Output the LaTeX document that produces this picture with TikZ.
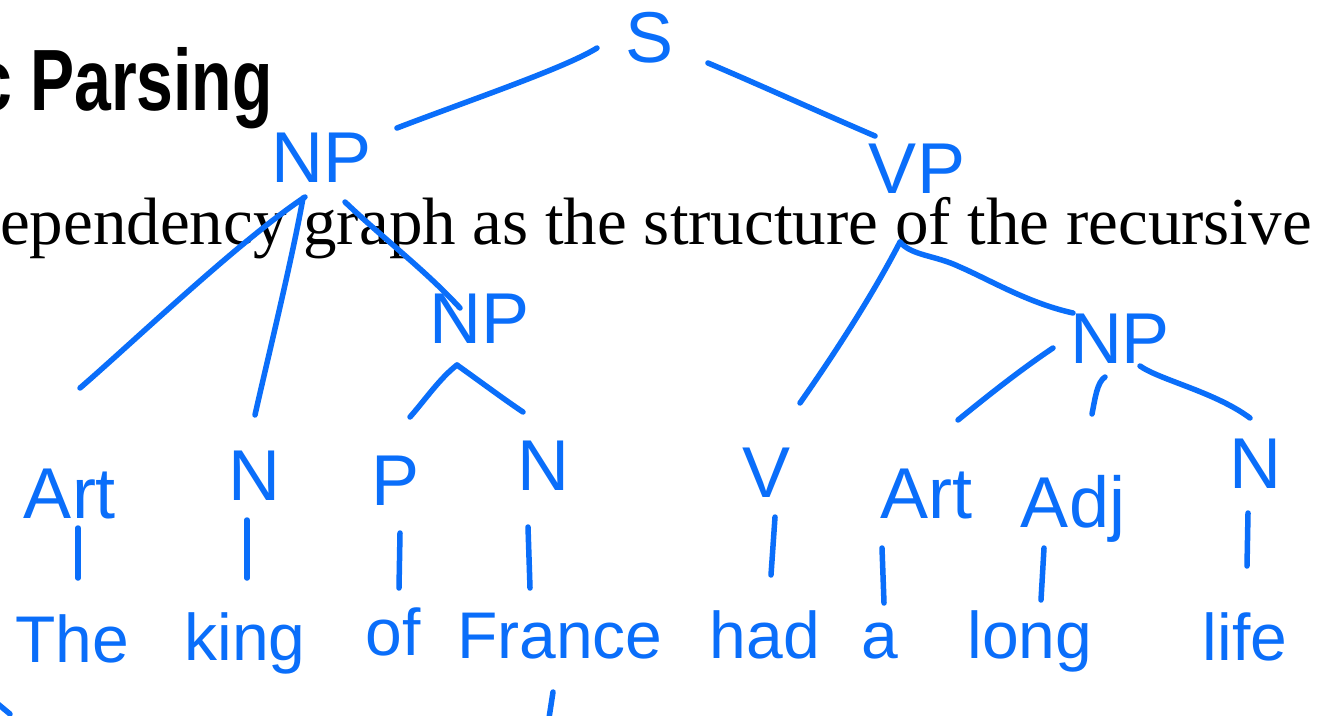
\documentclass[tikz,border=0pt]{standalone}
\usepackage{fontspec}
\newfontfamily\handfont{Liberation Sans}
\newfontfamily\serifface{Liberation Serif}
\newfontfamily\headface{Liberation Sans}
\usetikzlibrary{calc}
\definecolor{ink}{RGB}{10,110,250}
\begin{document}
\begin{tikzpicture}[x=1pt,y=-1pt,
  pen/.style={draw=ink,line width=5.5pt,line cap=round,line join=round},
  lbl/.style={text=ink,inner sep=0pt,anchor=base,font=\handfont\fontsize{72}{72}\selectfont},
  word/.style={text=ink,inner sep=0pt,anchor=base,font=\handfont\fontsize{66}{66}\selectfont}]
\useasboundingbox (0,0) rectangle (1343,715);
\fill[white] (0,0) rectangle (1343,715);
\clip (0,0) rectangle (1343,715);

% slide text underneath the annotation
\node[anchor=base east,inner sep=0pt,font=\headface\bfseries\fontsize{87}{87}\selectfont] (title) at (273,110) {\scalebox{0.76}[1]{c Parsing}};
\node[anchor=base west,inner sep=0pt,font=\serifface\fontsize{67}{67}\selectfont] (body) at (0,244) {ependency graph as the structure of the recursive};

% phrase labels
\node[lbl] (S)   at (650,62)  {S};
\node[lbl] (NPa) at (322,182) {NP};
\node[lbl] (VP)  at (917,193) {VP};
\node[lbl] (NPb) at (480,343) {NP};
\node[lbl] (NPc) at (1120,363) {NP};

% part-of-speech labels
\node[lbl] (Arta) at (70,518)   {Art};
\node[lbl] (Na)   at (254,500)  {N};
\node[lbl] (P)    at (396,505)  {P};
\node[lbl] (Nb)   at (543,490)  {N};
\node[lbl] (V)    at (767,497)  {V};
\node[lbl] (Artb) at (926,518)  {Art};
\node[lbl] (Adj)  at (1073,527) {Adj};
\node[lbl] (Nc)   at (1255,488) {N};

% the sentence
\node[word] (w1) at (72,662)   {The};
\node[word] (w2) at (245,660)  {king};
\node[word] (w3) at (393,655)  {of};
\node[word] (w4) at (560,658)  {France};
\node[word] (w5) at (765,658)  {had};
\node[word] (w6) at (880,658)  {a};
\node[word] (w7) at (1030,658) {long};
\node[word] (w8) at (1245,660) {life};

% tree branches
\draw[pen] ([shift={(-53,-14)}]S.base) .. controls +(-32,20) and +(73,-28) .. ([shift={(75,-54)}]NPa.base);
\draw[pen] ([shift={(58,1)}]S.base) .. controls +(52,22) and +(-65,-28) .. ([shift={(-42,-57)}]VP.base);

\draw[pen] ([shift={(-17,15)}]NPa.base) .. controls +(-65,43) and +(50,-43) .. ([shift={(10,-130)}]Arta.base);
\draw[pen] ([shift={(-19,16)}]NPa.base) .. controls +(-11,62) and +(10,-45) .. ([shift={(1,-85)}]Na.base);
\draw[pen] ([shift={(23,20)}]NPa.base) .. controls +(40,38) and +(-35,-38) .. ([shift={(-20,-35)}]NPb.base);

\draw[pen] ([shift={(-23,22)}]NPb.base) .. controls +(-17,13) and +(15,-17) .. ([shift={(14,-88)}]P.base);
\draw[pen] ([shift={(-23,22)}]NPb.base) .. controls +(28,20) and +(-18,-12) .. ([shift={(-20,-78)}]Nb.base);

\draw[pen] ([shift={(-17,49)}]VP.base) .. controls +(-30,58) and +(30,-43) .. ([shift={(33,-94)}]V.base);
\draw[pen] ([shift={(-17,49)}]VP.base) .. controls +(12,14) and +(-25,-12) .. ([shift={(-160,-96)}]NPc.base)
           .. controls +(30,13) and +(-45,-10) .. ([shift={(-47,-50)}]NPc.base);

\draw[pen] ([shift={(-67,-15)}]NPc.base) .. controls +(-33,22) and +(27,-22) .. ([shift={(32,-98)}]Artb.base);
\draw[pen] ([shift={(-15,14)}]NPc.base) .. controls +(-8,5) and +(3,-15) .. ([shift={(19,-113)}]Adj.base);
\draw[pen] ([shift={(20,3)}]NPc.base) .. controls +(20,14) and +(-35,-26) .. ([shift={(-5,-70)}]Nc.base);

% ticks from each label down to its word
\draw[pen] ([shift={(8,10)}]Arta.base) -- ([shift={(6,-84)}]w1.base);
\draw[pen] ([shift={(-7,20)}]Na.base) -- ([shift={(2,-82)}]w2.base);
\draw[pen] ([shift={(4,28)}]P.base) -- ([shift={(6,-67)}]w3.base);
\draw[pen] ([shift={(-15,37)}]Nb.base) -- ([shift={(-30,-70)}]w4.base);
\draw[pen] ([shift={(8,20)}]V.base) -- ([shift={(6,-83)}]w5.base);
\draw[pen] ([shift={(-44,30)}]Artb.base) -- ([shift={(4,-55)}]w6.base);
\draw[pen] ([shift={(-29,21)}]Adj.base) -- ([shift={(11,-58)}]w7.base);
\draw[pen] ([shift={(-7,25)}]Nc.base) -- ([shift={(2,-94)}]w8.base);

% stroke fragments running off the lower edge
\draw[pen] (-2,704) -- (10,714);
\draw[pen] (553,692) -- (549,718);
\end{tikzpicture}
\end{document}
